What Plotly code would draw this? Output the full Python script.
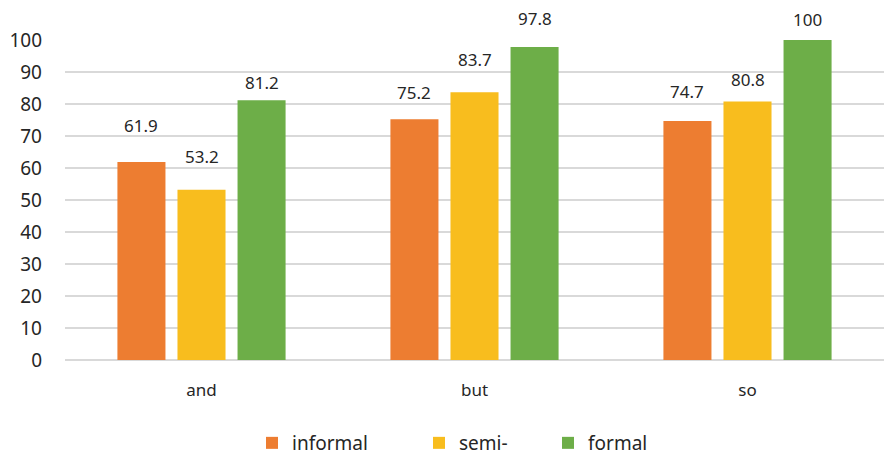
import plotly.graph_objects as go

categories = ["and", "but", "so"]
series_names = ["informal", "semi-", "formal"]
informal = [61.9, 75.2, 74.7]
semi = [53.2, 83.7, 80.8]
formal = [81.2, 97.8, 100]
y_ticks = [0, 10, 20, 30, 40, 50, 60, 70, 80, 90, 100]

colors = ["#ED7D31", "#F8BD1E", "#6DAE48"]
values = [informal, semi, formal]
legends = ["legend", "legend2", "legend3"]
# style: extra vertical pixel offset of each data label above its bar
label_shift = [[23, 13, 16], [20, 19, 8], [4, 15, 7]]

W, H = 885, 464
FONT = "Noto Sans"
ML, MR, MT, MB = 65, 1, 40, 104
BARGAP, GROUPGAP = 0.34, 0.2

fig = go.Figure()
for name, vals, col, lg in zip(series_names, values, colors, legends):
    fig.add_trace(go.Bar(
        x=categories, y=vals, name=name,
        marker=dict(color=col, line=dict(width=0)),
        legend=lg,
    ))

# data labels as annotations, offset within the group by the computed slot width
plot_w = W - ML - MR
slot_px = plot_w / len(categories) * (1 - BARGAP) / len(values)
for i, (vals, shifts) in enumerate(zip(values, label_shift)):
    for c, v, s in zip(categories, vals, shifts):
        fig.add_annotation(
            x=c, y=v, text=f"{v:g}", showarrow=False,
            xanchor="center", yanchor="bottom",
            xshift=(i - (len(values) - 1) / 2) * slot_px, yshift=s,
            font=dict(family=FONT, size=17, color="#262626"),
        )

legend_pos = [(252, 443), (419, 443), (548, 443)]
leg_common = dict(font=dict(family=FONT, size=19, color="#262626"),
                  bgcolor="rgba(0,0,0,0)", orientation="h",
                  xref="container", yref="container",
                  xanchor="left", yanchor="middle", itemwidth=30)
legend_layout = {}
for lg, (px, py) in zip(legends, legend_pos):
    legend_layout[lg] = dict(leg_common, x=px / W, y=1 - py / H)

fig.update_layout(
    width=W, height=H,
    margin=dict(l=ML, r=MR, t=MT, b=MB),
    plot_bgcolor="white", paper_bgcolor="white",
    barmode="group", bargap=BARGAP, bargroupgap=GROUPGAP,
    font=dict(family=FONT, color="#262626"),
    xaxis=dict(tickfont=dict(family=FONT, size=17, color="#262626"),
               showgrid=False, showline=False, ticks="", ticklen=0,
               ticklabelstandoff=18),
    yaxis=dict(range=[0, 100], tickvals=y_ticks,
               tickfont=dict(family=FONT, size=19, color="#262626"),
               showgrid=True, gridcolor="#D9D9D9", gridwidth=1.5,
               zeroline=True, zerolinecolor="#D9D9D9", zerolinewidth=1.5,
               showline=False, ticks="", ticklabelstandoff=22),
    showlegend=True,
    **legend_layout,
)

fig.write_html("out.html")
